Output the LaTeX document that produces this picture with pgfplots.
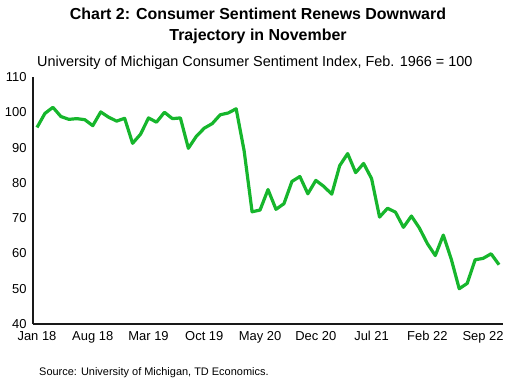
\documentclass[border=0pt]{standalone}
\usepackage{pgfplots}
\pgfplotsset{compat=1.18}
\usepackage{fontspec}
\setmainfont{Liberation Sans}
\definecolor{tdgreen}{RGB}{22,182,44}
\begin{document}
\begin{tikzpicture}[x=1bp,y=1bp]
\useasboundingbox (0,0) rectangle (515,384);
\node[font=\bfseries\fontsize{16}{20.5}\selectfont, align=center] at (258,358) {Chart 2: Consumer Sentiment Renews Downward\\Trajectory in November};
\node[anchor=west, font=\fontsize{14.5}{16}\selectfont, inner sep=0] at (37,321) {University of Michigan Consumer Sentiment Index, Feb. 1966 = 100};
\node[anchor=west, font=\fontsize{11}{12}\selectfont, inner sep=0] at (39,11) {Source: University of Michigan, TD Economics.};
\begin{axis}[
  at={(37bp,60bp)}, anchor=origin,
  scale only axis, width=470bp, height=247bp,
  xmin=-0.5, xmax=58.5, ymin=40, ymax=110,
  ytick={40,50,...,110},
  xtick={0,7,14,21,28,35,42,49,56},
  xticklabels={Jan 18,Aug 18,Mar 19,Oct 19,May 20,Dec 20,Jul 21,Feb 22,Sep 22},
  axis x line*=bottom, axis y line*=left,
  axis line style={line width=1.6pt, color=black!90, -},
  major tick style={draw=none},
  ticklabel style={font=\fontsize{13}{15}\selectfont},
  /pgf/number format/assume math mode=true,
  xticklabel style={yshift=-4bp},
  yticklabel style={xshift=-3bp},
  clip=false,
]
\addplot[color=tdgreen, line width=3.2bp, line join=round] coordinates {
(0,95.7)(1,99.7)(2,101.4)(3,98.8)(4,98.0)(5,98.2)(6,97.9)(7,96.2)(8,100.1)(9,98.6)(10,97.5)(11,98.3)
(12,91.2)(13,93.8)(14,98.4)(15,97.2)(16,100.0)(17,98.2)(18,98.4)(19,89.8)(20,93.2)(21,95.5)(22,96.8)(23,99.3)
(24,99.8)(25,101.0)(26,89.1)(27,71.8)(28,72.3)(29,78.1)(30,72.5)(31,74.1)(32,80.4)(33,81.8)(34,76.9)(35,80.7)
(36,79.0)(37,76.8)(38,84.9)(39,88.3)(40,82.9)(41,85.5)(42,81.2)(43,70.3)(44,72.8)(45,71.7)(46,67.4)(47,70.6)
(48,67.2)(49,62.8)(50,59.4)(51,65.2)(52,58.4)(53,50.0)(54,51.5)(55,58.2)(56,58.6)(57,59.9)(58,56.8)
};
\end{axis}
\end{tikzpicture}
\end{document}
